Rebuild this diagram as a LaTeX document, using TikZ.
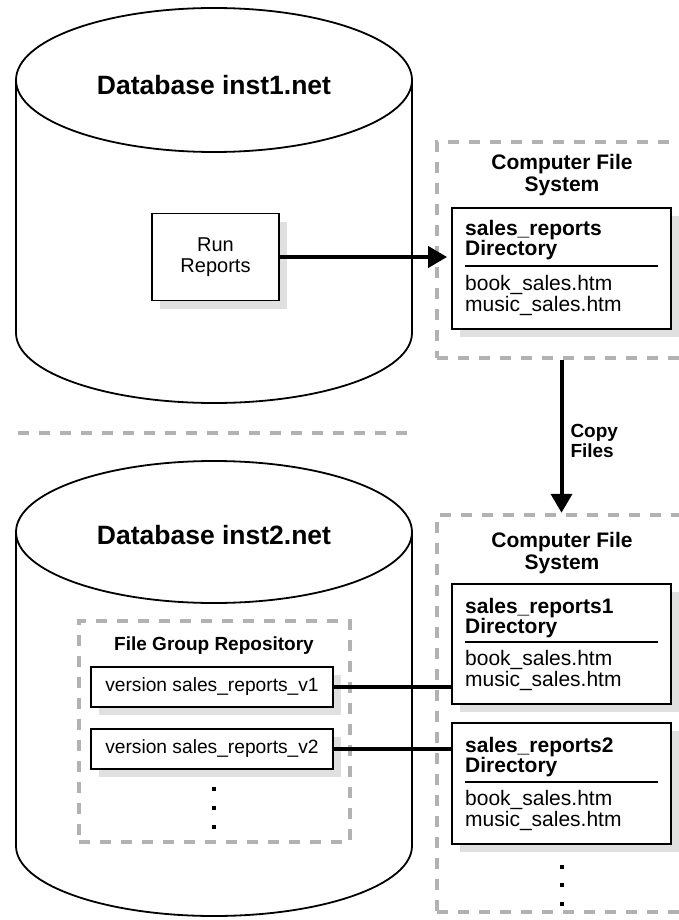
\documentclass[tikz,border=0pt]{standalone}
\usepackage{fontspec}
\setmainfont{Liberation Sans}
\usetikzlibrary{positioning,arrows.meta,shadows}

\begin{document}
\begin{tikzpicture}[x=1pt, y=-1pt,
					every node/.style={font=\fontsize{20}{21}\selectfont},
					box/.style={draw, line width=1.8pt, fill=white, inner sep=0pt,
						drop shadow={shadow xshift=8pt, shadow yshift=-8pt, fill=black!12, opacity=1}},
					dbtitle/.style={font=\fontsize{26.5}{28}\selectfont\bfseries},
					head/.style={font=\fontsize{21}{22}\selectfont\bfseries, align=center},
					dirname/.style={anchor=west, inner sep=0pt, align=left, font=\fontsize{21}{20}\selectfont\bfseries},
					files/.style={anchor=west, inner sep=0pt, align=left, font=\fontsize{21}{21}\selectfont},
					region/.style={draw=black!30, line width=4.5pt, dash pattern=on 11pt off 10pt, inner sep=0pt},
					cyl/.style={line width=1.8pt},
					link/.style={line width=4pt},
					push/.style={line width=4pt, -{Triangle[length=19pt, width=21pt]}}]
					\useasboundingbox (0,0) rectangle (678,920);
					% database cylinders
					\draw[cyl] (214,80) ellipse [x radius=198pt, y radius=72pt];
					\draw[cyl] (16,80) -- (16,333) arc[start angle=180, end angle=360, x radius=198pt, y radius=70pt] -- (412,80);
					\draw[cyl] (214,532) ellipse [x radius=198pt, y radius=71pt];
					\draw[cyl] (16,532) -- (16,846) arc[start angle=180, end angle=360, x radius=198pt, y radius=70pt] -- (412,532);
					\node[dbtitle] (db1) at (214,85) {Database inst1.net};
					\node[dbtitle] (db2) at (214,535) {Database inst2.net};
					\draw[region] (18,433) -- (415,433);
					% first file system
					\node[box, minimum width=127pt, minimum height=87pt, align=center] (run) at (215.5,257) {Run\\Reports};
					\node[region, minimum width=260pt, minimum height=216pt] (cfs1) at (567,250) {};
					\node[head] (cfs1t) at (562,175) {Computer File\\System};
					\node[box, minimum width=219pt, minimum height=121pt] (fs1) at (561.5,268.5) {};
					\node[dirname] (fs1d) at (465,240.5) {sales\_reports\\Directory};
					\draw[line width=1.8pt] (465,266) -- (658,266);
					\node[files] (fs1f) at (465,295.5) {book\_sales.htm\\music\_sales.htm};
					\draw[push, shorten >=4pt] (run.east) -- (run.east -| fs1.west);
					% second file system
					\node[region, minimum width=260pt, minimum height=397pt] (cfs2) at (567,713.5) {};
					\node[head] (cfs2t) at (562,553) {Computer File\\System};
					\node[box, minimum width=219pt, minimum height=120pt] (bx1) at (561.5,644) {};
					\node[dirname] (bx1d) at (465,618) {sales\_reports1\\Directory};
					\draw[line width=1.8pt] (465,642) -- (658,642);
					\node[files] (bx1f) at (465,670) {book\_sales.htm\\music\_sales.htm};
					\node[box, minimum width=219pt, minimum height=121pt] (bx2) at (561.5,783.5) {};
					\node[dirname] (bx2d) at (465,757) {sales\_reports2\\Directory};
					\draw[line width=1.8pt] (465,782) -- (658,782);
					\node[files] (bx2f) at (465,810.5) {book\_sales.htm\\music\_sales.htm};
					\foreach \y in {867,885,904}
						\fill (560,\y-2) rectangle +(4,4);
					\draw[push] (cfs1.south -| fs1.south) -- (cfs2.north -| fs1.south)
						node[pos=0.53, anchor=west, inner sep=0pt, xshift=7pt, align=left, font=\fontsize{19}{20}\selectfont\bfseries] (copy) {Copy\\Files};
					% repository
					\node[region, minimum width=271pt, minimum height=221pt] (repo) at (214.5,731.5) {};
					\node[head, font=\fontsize{19}{20}\selectfont\bfseries] (repot) at (214,646) {File Group Repository};
					\node[box, minimum width=242pt, minimum height=40pt, font=\fontsize{19.2}{20}\selectfont] (v1) at (212,687) {version sales\_reports\_v1};
					\node[box, minimum width=242pt, minimum height=40pt, font=\fontsize{19.2}{20}\selectfont] (v2) at (212,749) {version sales\_reports\_v2};
					\foreach \y in {789,808,827}
						\fill (212,\y-2) rectangle +(4,4);
					\draw[link] (v1.east) -- (v1.east -| bx1.west);
					\draw[link] (v2.east) -- (v2.east -| bx2.west);
				\end{tikzpicture}
\end{document}
